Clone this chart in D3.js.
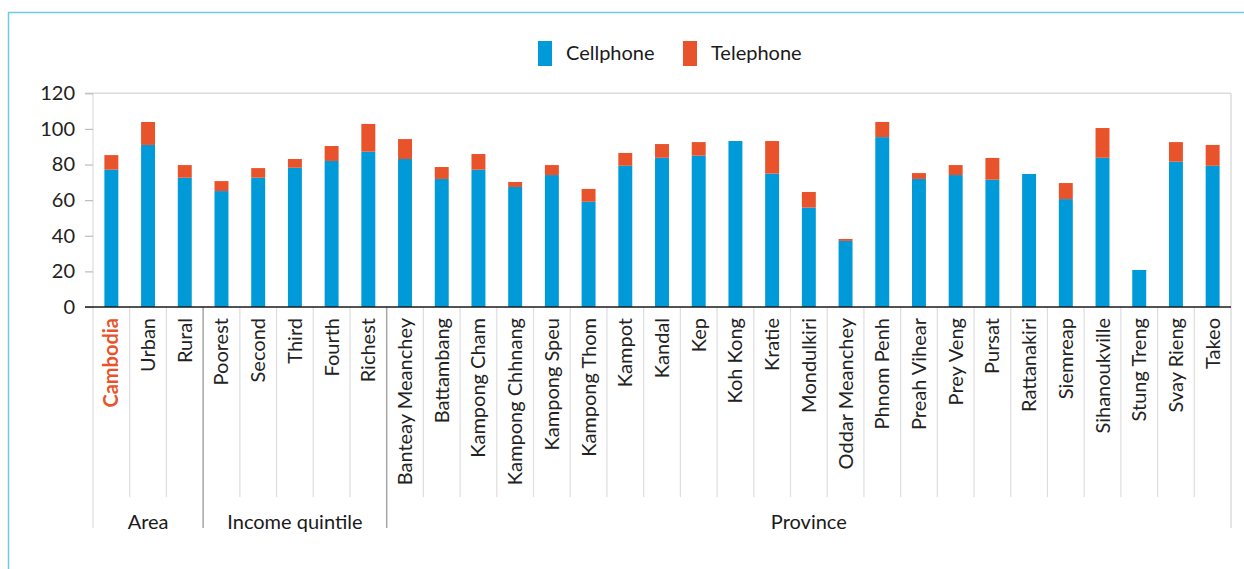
<!DOCTYPE html>
<html>
<head>
<meta charset="utf-8">
<script src="https://cdn.jsdelivr.net/npm/d3@7"></script>
<style>
  html, body { margin: 0; padding: 0; background: #fff; }
  svg { display: block; font-family: Lato, "Open Sans", sans-serif; }
</style>
</head>
<body>
<svg id="chart" width="1244" height="569"></svg>
<script>
// Household phone ownership (%) by area, income quintile and province
const categories = [
  "Cambodia", "Urban", "Rural",
  "Poorest", "Second", "Third", "Fourth", "Richest",
  "Banteay Meanchey", "Battambang", "Kampong Cham", "Kampong Chhnang",
  "Kampong Speu", "Kampong Thom", "Kampot", "Kandal", "Kep", "Koh Kong",
  "Kratie", "Mondulkiri", "Oddar Meanchey", "Phnom Penh", "Preah Vihear",
  "Prey Veng", "Pursat", "Rattanakiri", "Siemreap", "Sihanoukville",
  "Stung Treng", "Svay Rieng", "Takeo"
];
const cellphone = [
  77.1, 91.0, 72.6,
  65.1, 72.6, 78.2, 82.0, 87.2,
  83.1, 71.9, 77.1, 67.4, 74.1, 59.1, 79.3, 83.8, 85.0, 93.2,
  74.9, 55.8, 37.1, 95.4, 71.9, 74.1, 71.5, 74.7, 60.6, 83.8,
  20.8, 81.6, 79.3
];
const telephone = [
  8.2, 12.9, 7.1,
  5.6, 5.4, 4.9, 8.4, 15.6,
  11.2, 6.7, 8.8, 2.8, 5.6, 7.2, 7.2, 7.7, 7.6, 0.0,
  18.3, 8.8, 1.1, 8.5, 3.3, 5.6, 12.2, 0.0, 9.0, 16.7,
  0.0, 11.0, 11.7
];
const groups = [
  { name: "Area", start: 0, end: 3 },
  { name: "Income quintile", start: 3, end: 8 },
  { name: "Province", start: 8, end: 31 }
];
const yTicks = [0, 20, 40, 60, 80, 100, 120];
const seriesNames = ["Cellphone", "Telephone"];
const colors = { Cellphone: "#009ad8", Telephone: "#e9532b" };

const rows = categories.map((c, i) => ({ category: c, Cellphone: cellphone[i], Telephone: telephone[i] }));
const stacked = d3.stack().keys(seriesNames)(rows);

const svg = d3.select("#chart");
const plotLeft = 93, plotRight = 1231, plotTop = 93.3, plotBottom = 307;

const x = d3.scaleBand().domain(categories).range([plotLeft, plotRight]).paddingInner(0).paddingOuter(0);
const y = d3.scaleLinear().domain([0, 120]).range([plotBottom, plotTop]);
const barW = x.bandwidth() * 0.38;

// outer frame (top and left edges)
svg.append("path")
  .attr("d", "M8.5,569 V12.5 H1244")
  .attr("fill", "none").attr("stroke", "#6ccbe3").attr("stroke-width", 1.5);

// plot border: top, left and right
svg.append("line").attr("x1", 85).attr("x2", plotRight).attr("y1", plotTop).attr("y2", plotTop)
  .attr("stroke", "#dcdcdc").attr("stroke-width", 1.5);
svg.append("line").attr("x1", plotRight).attr("x2", plotRight).attr("y1", plotTop).attr("y2", 528)
  .attr("stroke", "#dcdcdc").attr("stroke-width", 1.5);
svg.append("line").attr("x1", plotLeft).attr("x2", plotLeft).attr("y1", plotTop).attr("y2", 528)
  .attr("stroke", "#dcdcdc").attr("stroke-width", 1.2);

// y axis
const yAxis = svg.append("g").attr("transform", `translate(${plotLeft},0)`)
  .call(d3.axisLeft(y).tickValues(yTicks).tickSize(8).tickPadding(10));
yAxis.select(".domain").remove();
yAxis.selectAll(".tick line").attr("stroke", "#bdbdbd").attr("stroke-width", 1.2);
yAxis.selectAll(".tick text").attr("font-size", 20).attr("fill", "#222")
  .attr("font-family", "Lato, sans-serif");

// category separators below the axis
const groupEdges = new Set(groups.map(g => g.start));
categories.forEach((c, i) => {
  if (i === 0) return;
  const isGroup = groupEdges.has(i);
  svg.append("line")
    .attr("x1", x(c)).attr("x2", x(c))
    .attr("y1", plotBottom).attr("y2", isGroup ? 528 : 497)
    .attr("stroke", isGroup ? "#a6a6a6" : "#dedede")
    .attr("stroke-width", isGroup ? 1.5 : 1.2);
});

// stacked bars
svg.append("g").selectAll("g").data(stacked).join("g")
  .attr("fill", d => colors[d.key])
  .selectAll("rect").data(d => d).join("rect")
  .attr("x", d => x(d.data.category) + (x.bandwidth() - barW) / 2)
  .attr("width", barW)
  .attr("y", d => y(d[1]))
  .attr("height", d => Math.max(0, y(d[0]) - y(d[1])));

// x axis baseline
svg.append("line").attr("x1", 85).attr("x2", plotRight).attr("y1", plotBottom).attr("y2", plotBottom)
  .attr("stroke", "#1a1a1a").attr("stroke-width", 1.5);

// rotated category labels
svg.append("g").selectAll("text").data(categories).join("text")
  .attr("transform", d => `translate(${x(d) + x.bandwidth() / 2 + 7},318) rotate(-90)`)
  .attr("text-anchor", "end")
  .attr("font-size", 20)
  .attr("font-weight", (d, i) => i === 0 ? 700 : 400)
  .attr("fill", (d, i) => i === 0 ? "#e9532b" : "#222")
  .text(d => d);

// group labels
svg.append("g").selectAll("text").data(groups).join("text")
  .attr("x", g => (x(categories[g.start]) + x(categories[g.end - 1]) + x.bandwidth()) / 2)
  .attr("y", 529)
  .attr("text-anchor", "middle")
  .attr("font-size", 20)
  .attr("fill", "#1a1a1a")
  .text(g => g.name);

// legend
const legendX = [538, 683];
const legend = svg.append("g").selectAll("g").data(seriesNames).join("g")
  .attr("transform", (d, i) => `translate(${legendX[i]},41)`);
legend.append("rect").attr("width", 14).attr("height", 25).attr("fill", d => colors[d]);
legend.append("text").attr("x", 28).attr("y", 19).attr("font-size", 20).attr("fill", "#1a1a1a").text(d => d);
</script>
</body>
</html>
